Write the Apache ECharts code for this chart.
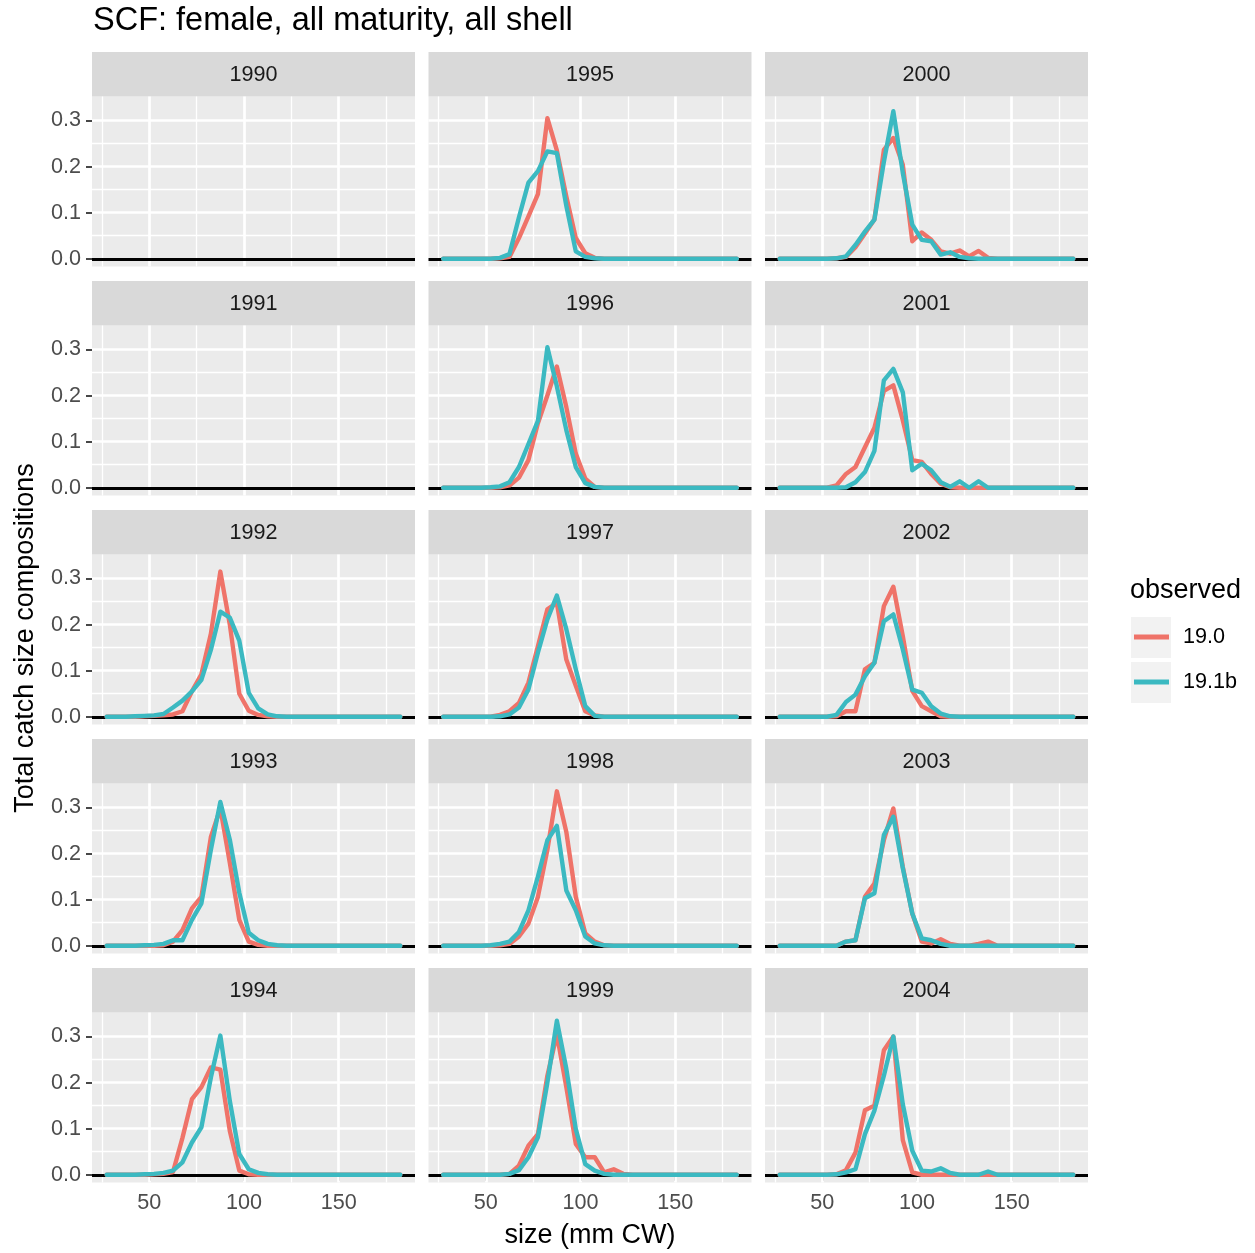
<!DOCTYPE html>
<html><head><meta charset="utf-8">
<script src="https://cdn.jsdelivr.net/npm/echarts@6/dist/echarts.min.js"></script>
<style>html,body{margin:0;padding:0;background:#fff}#c{width:1255px;height:1253px}</style>
</head><body><div id="c"></div><script>
// ---------- data ----------
const sizeBins = [27.5,32.5,37.5,42.5,47.5,52.5,57.5,62.5,67.5,72.5,77.5,82.5,87.5,92.5,97.5,102.5,107.5,112.5,117.5,122.5,127.5,132.5,137.5,142.5,147.5,152.5,157.5,162.5,167.5,172.5,177.5,182.5];
const panelYears = [1990,1991,1992,1993,1994,1995,1996,1997,1998,1999,2000,2001,2002,2003,2004];
const xTicks = [50,100,150];
const xMinor = [25,75,125,175];
const yTicks = [0,0.1,0.2,0.3];
const yMinor = [0.05,0.15,0.25];
const seriesNames = ['19.0','19.1b'];

// model 19.0
const m190_1992 = [0,0,0,0,0.001,0.002,0.003,0.005,0.012,0.055,0.092,0.18,0.315,0.2,0.05,0.013,0.004,0.001,0,0,0,0,0,0,0,0,0,0,0,0,0,0];
const m190_1993 = [0,0,0,0,0,0,0.001,0.009,0.034,0.081,0.106,0.236,0.298,0.18,0.056,0.009,0.002,0,0,0,0,0,0,0,0,0,0,0,0,0,0,0];
const m190_1994 = [0,0,0,0,0,0.001,0.002,0.006,0.08,0.164,0.19,0.233,0.228,0.095,0.009,0.001,0,0,0,0,0,0,0,0,0,0,0,0,0,0,0,0];
const m190_1995 = [0,0,0,0,0,0,0.001,0.004,0.045,0.092,0.14,0.305,0.235,0.135,0.045,0.012,0.002,0,0,0,0,0,0,0,0,0,0,0,0,0,0,0];
const m190_1996 = [0,0,0,0,0,0,0.001,0.005,0.022,0.06,0.14,0.2,0.263,0.175,0.074,0.02,0.002,0,0,0,0,0,0,0,0,0,0,0,0,0,0,0];
const m190_1997 = [0,0,0,0,0,0,0.004,0.012,0.03,0.074,0.153,0.233,0.247,0.124,0.067,0.012,0.003,0,0,0,0,0,0,0,0,0,0,0,0,0,0,0];
const m190_1998 = [0,0,0,0,0,0,0.001,0.004,0.02,0.048,0.106,0.208,0.335,0.247,0.106,0.027,0.009,0.001,0,0,0,0,0,0,0,0,0,0,0,0,0,0];
const m190_1999 = [0,0,0,0,0,0,0,0.002,0.02,0.063,0.088,0.215,0.305,0.19,0.067,0.038,0.038,0.005,0.012,0.002,0,0,0,0,0,0,0,0,0,0,0,0];
const m190_2000 = [0,0,0,0,0,0,0.001,0.004,0.025,0.055,0.085,0.236,0.262,0.204,0.038,0.057,0.041,0.016,0.011,0.018,0.005,0.017,0.002,0,0,0,0,0,0,0,0,0];
const m190_2001 = [0,0,0,0,0,0,0.005,0.03,0.045,0.088,0.13,0.21,0.222,0.146,0.06,0.056,0.03,0.009,0.001,0,0,0,0,0,0,0,0,0,0,0,0,0];
const m190_2002 = [0,0,0,0,0,0,0.001,0.012,0.012,0.103,0.117,0.24,0.282,0.175,0.056,0.023,0.012,0.001,0,0,0,0,0,0,0,0,0,0,0,0,0,0];
const m190_2003 = [0,0,0,0,0,0,0,0.009,0.012,0.106,0.135,0.229,0.298,0.171,0.07,0.009,0.005,0.014,0.004,0,0,0.004,0.009,0,0,0,0,0,0,0,0,0];
const m190_2004 = [0,0,0,0,0,0,0.001,0.01,0.048,0.14,0.15,0.27,0.3,0.075,0.005,0,0,0,0,0,0,0,0,0,0,0,0,0,0,0,0,0];

// model 19.1b
const m191b_1992 = [0,0,0,0.001,0.002,0.003,0.006,0.02,0.035,0.055,0.08,0.145,0.228,0.215,0.165,0.052,0.018,0.005,0.001,0,0,0,0,0,0,0,0,0,0,0,0,0];
const m191b_1993 = [0,0,0,0,0.001,0.002,0.004,0.012,0.012,0.056,0.092,0.208,0.312,0.23,0.115,0.028,0.012,0.004,0.001,0,0,0,0,0,0,0,0,0,0,0,0,0];
const m191b_1994 = [0,0,0,0,0.001,0.002,0.004,0.009,0.027,0.07,0.103,0.211,0.302,0.16,0.045,0.012,0.004,0.001,0,0,0,0,0,0,0,0,0,0,0,0,0,0];
const m191b_1995 = [0,0,0,0,0,0,0.002,0.01,0.09,0.165,0.19,0.233,0.229,0.115,0.016,0.004,0.001,0,0,0,0,0,0,0,0,0,0,0,0,0,0,0];
const m191b_1996 = [0,0,0,0,0,0.001,0.003,0.012,0.045,0.095,0.145,0.305,0.22,0.125,0.045,0.01,0.002,0,0,0,0,0,0,0,0,0,0,0,0,0,0,0];
const m191b_1997 = [0,0,0,0,0,0,0.001,0.005,0.02,0.059,0.139,0.211,0.263,0.19,0.103,0.023,0.002,0,0,0,0,0,0,0,0,0,0,0,0,0,0,0];
const m191b_1998 = [0,0,0,0,0,0.001,0.004,0.009,0.03,0.077,0.15,0.229,0.26,0.12,0.077,0.02,0.005,0.001,0,0,0,0,0,0,0,0,0,0,0,0,0,0];
const m191b_1999 = [0,0,0,0,0,0,0,0.002,0.01,0.038,0.081,0.2,0.334,0.23,0.099,0.023,0.009,0.002,0,0,0,0,0,0,0,0,0,0,0,0,0,0];
const m191b_2000 = [0,0,0,0,0,0,0.001,0.005,0.03,0.059,0.085,0.21,0.32,0.186,0.074,0.041,0.038,0.009,0.014,0.004,0.001,0,0,0,0,0,0,0,0,0,0,0];
const m191b_2001 = [0,0,0,0,0,0,0,0.001,0.012,0.034,0.08,0.233,0.258,0.207,0.038,0.052,0.038,0.012,0.002,0.014,0,0.014,0,0,0,0,0,0,0,0,0,0];
const m191b_2002 = [0,0,0,0,0,0,0.004,0.032,0.048,0.088,0.117,0.207,0.222,0.146,0.059,0.052,0.023,0.007,0.001,0,0,0,0,0,0,0,0,0,0,0,0,0];
const m191b_2003 = [0,0,0,0,0,0,0,0.009,0.012,0.103,0.114,0.24,0.28,0.168,0.07,0.016,0.012,0.004,0,0,0,0,0,0,0,0,0,0,0,0,0,0];
const m191b_2004 = [0,0,0,0,0,0,0.001,0.005,0.012,0.088,0.139,0.215,0.3,0.153,0.052,0.009,0.007,0.014,0.004,0,0,0,0.007,0,0,0,0,0,0,0,0,0];

const byYear190 = {1992:m190_1992,1993:m190_1993,1994:m190_1994,1995:m190_1995,1996:m190_1996,1997:m190_1997,1998:m190_1998,1999:m190_1999,2000:m190_2000,2001:m190_2001,2002:m190_2002,2003:m190_2003,2004:m190_2004};
const byYear191b = {1992:m191b_1992,1993:m191b_1993,1994:m191b_1994,1995:m191b_1995,1996:m191b_1996,1997:m191b_1997,1998:m191b_1998,1999:m191b_1999,2000:m191b_2000,2001:m191b_2001,2002:m191b_2002,2003:m191b_2003,2004:m191b_2004};

// ---------- layout / style ----------
const FONT = "'Liberation Sans', Arial, Helvetica, sans-serif";
const RED = '#EF7369', TEAL = '#3BB9C1';
const colLeft = [92, 428.5, 765];
const panelW = 323, stripH = 44.5, panelH = 170, rowPitch = 229, firstTop = 52;
const xRange = [19.75, 190.25];
const yRange = [-0.0168, 0.352];

const grids = [], xAxes = [], yAxes = [], series = [], graphics = [];
panelYears.forEach((yr, i) => {
  const col = Math.floor(i / 5), row = i % 5;
  const stripTop = firstTop + row * rowPitch;
  const left = colLeft[col];
  grids.push({left: left, top: stripTop + stripH, width: panelW, height: panelH,
    show: true, backgroundColor: '#EBEBEB', borderWidth: 0});
  xAxes.push({gridIndex: i, type: 'value', min: xRange[0], max: xRange[1],
    axisLine: {show: false}, splitLine: {show: false},
    axisTick: {show: row === 4, customValues: xTicks, length: 6, lineStyle: {color: '#333', width: 1.8}},
    axisLabel: {show: row === 4, customValues: xTicks, margin: 10, fontSize: 21.6, color: '#4D4D4D', fontFamily: FONT}});
  yAxes.push({gridIndex: i, type: 'value', min: yRange[0], max: yRange[1],
    axisLine: {show: false}, splitLine: {show: false},
    axisTick: {show: col === 0, customValues: yTicks, length: 6, lineStyle: {color: '#333', width: 1.8}},
    axisLabel: {show: col === 0, customValues: yTicks, margin: 11, fontSize: 21.6, color: '#4D4D4D', fontFamily: FONT,
      formatter: v => v.toFixed(1)}});
  // grid lines
  const ml = [];
  xMinor.forEach(v => ml.push({xAxis: v, lineStyle: {color: '#fff', width: 1.3, type: 'solid'}}));
  yMinor.forEach(v => ml.push({yAxis: v, lineStyle: {color: '#fff', width: 1.3, type: 'solid'}}));
  xTicks.forEach(v => ml.push({xAxis: v, lineStyle: {color: '#fff', width: 2.7, type: 'solid'}}));
  yTicks.forEach(v => ml.push({yAxis: v, lineStyle: {color: '#fff', width: 2.7, type: 'solid'}}));
  series.push({type: 'line', name: 'grid' + yr, xAxisIndex: i, yAxisIndex: i, data: [[xRange[0], 0]],
    showSymbol: false, symbol: 'none', lineStyle: {width: 0, opacity: 0}, silent: true, z: 1,
    markLine: {silent: true, symbol: ['none', 'none'], label: {show: false}, animation: false, data: ml}});
  if (byYear190[yr]) {
    series.push({type: 'line', name: seriesNames[0], xAxisIndex: i, yAxisIndex: i, z: 10,
      data: sizeBins.map((x, k) => [x, byYear190[yr][k]]), showSymbol: false, symbol: 'none',
      itemStyle: {color: RED}, lineStyle: {color: RED, width: 4.4, join: 'round', cap: 'round'}});
    series.push({type: 'line', name: seriesNames[1], xAxisIndex: i, yAxisIndex: i, z: 11,
      data: sizeBins.map((x, k) => [x, byYear191b[yr][k]]), showSymbol: false, symbol: 'none',
      itemStyle: {color: TEAL}, lineStyle: {color: TEAL, width: 4.4, join: 'round', cap: 'round'}});
  }
  // black zero line
  series.push({type: 'line', name: 'zero' + yr, xAxisIndex: i, yAxisIndex: i, data: [[xRange[0], 0]],
    showSymbol: false, symbol: 'none', lineStyle: {width: 0, opacity: 0}, silent: true, z: 12,
    markLine: {silent: true, symbol: ['none', 'none'], label: {show: false}, animation: false,
      data: [{yAxis: 0, lineStyle: {color: '#000', width: 2.8, type: 'solid'}}]}});
  // strip
  graphics.push({type: 'rect', shape: {x: left, y: stripTop, width: panelW, height: stripH},
    style: {fill: '#D9D9D9'}, silent: true});
  graphics.push({type: 'text', x: left + panelW / 2, y: stripTop + stripH / 2 + 1,
    style: {text: String(yr), fill: '#1A1A1A', font: '21.6px ' + FONT, textAlign: 'center', textVerticalAlign: 'middle'}, silent: true});
});

// titles
graphics.push({type: 'text', x: 93, y: 21, style: {text: 'SCF: female, all maturity, all shell', fill: '#000',
  font: '32.5px ' + FONT, textAlign: 'left', textVerticalAlign: 'middle'}});
graphics.push({type: 'text', x: 590, y: 1236, style: {text: 'size (mm CW)', fill: '#000',
  font: '27px ' + FONT, textAlign: 'center', textVerticalAlign: 'middle'}});
graphics.push({type: 'text', x: 26, y: 638, rotation: Math.PI / 2, style: {text: 'Total catch size compositions', fill: '#000',
  font: '27px ' + FONT, textAlign: 'center', textVerticalAlign: 'middle'}});
// legend
graphics.push({type: 'text', x: 1130, y: 591, style: {text: 'observed', fill: '#000',
  font: '27px ' + FONT, textAlign: 'left', textVerticalAlign: 'middle'}});
graphics.push({type: 'rect', shape: {x: 1131, y: 617, width: 40, height: 41}, style: {fill: '#F2F2F2'}, z: -1});
graphics.push({type: 'rect', shape: {x: 1131, y: 662, width: 40, height: 41}, style: {fill: '#F2F2F2'}, z: -1});

const chart = echarts.init(document.getElementById('c'), null, {renderer: 'canvas'});
chart.setOption({
  animation: false,
  backgroundColor: '#fff',
  grid: grids, xAxis: xAxes, yAxis: yAxes, series: series,
  legend: {orient: 'vertical', left: 1134, top: 625, itemWidth: 35, itemHeight: 5, itemGap: 21, padding: 0,
    selectedMode: false,
    data: [{name: '19.0', icon: 'rect', itemStyle: {color: RED}}, {name: '19.1b', icon: 'rect', itemStyle: {color: TEAL}}],
    textStyle: {fontSize: 21.6, color: '#000', fontFamily: FONT, lineHeight: 24, padding: [0, 0, 0, 9]}},
  graphic: graphics
});
</script></body></html>
